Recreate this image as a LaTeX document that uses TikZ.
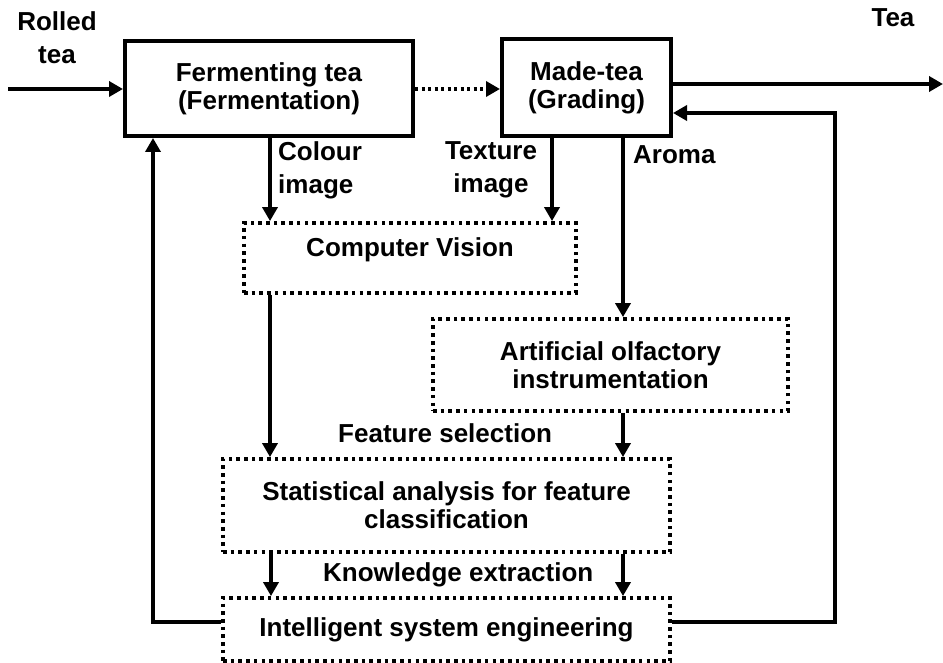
\documentclass[tikz,border=0pt]{standalone}
\usepackage{fontspec}
\setmainfont{Liberation Sans}
\usetikzlibrary{arrows.meta}
\tikzset{
  every node/.style={font=\fontsize{26}{28}\selectfont\bfseries, align=center, inner sep=0pt},
  solidbox/.style={draw, line width=4pt, minimum width=#1},
  dotbox/.style={draw, line width=3.8pt, dash pattern=on 3.6pt off 4.1pt, minimum width=#1},
  flow/.style={line width=3.6pt, -{Triangle[length=14pt,width=15pt]}},
  dotflow/.style={line width=3.4pt, dash pattern=on 3.2pt off 3.3pt, -{Triangle[length=14pt,width=15pt]}},
  lbl/.style={font=\fontsize{26}{33}\selectfont\bfseries}
}
\begin{document}
\begin{tikzpicture}[x=1pt,y=-1pt]
\useasboundingbox (0,0) rectangle (943,663);

% process boxes
\node[solidbox=288pt, minimum height=95pt] (ferm) at (269,88.5) {Fermenting tea\\(Fermentation)};
\node[solidbox=169pt, minimum height=97pt] (made) at (586.5,87.5) {Made-tea\\(Grading)};

% analysis boxes
\node[dotbox=332pt, minimum height=70pt, text depth=22pt] (cv) at (410,258) {Computer Vision};
\node[dotbox=355pt, minimum height=92pt] (art) at (610.5,365) {Artificial olfactory\\instrumentation};
\node[dotbox=447pt, minimum height=93pt] (stat) at (446.5,505.5) {Statistical analysis for feature\\classification};
\node[dotbox=447pt, minimum height=63pt] (ise) at (446.5,629.5) {Intelligent system engineering};

% free ends and routing points
\coordinate (in) at (8,89);
\coordinate (out) at (943,84);
\coordinate (fbL) at (153,622);
\coordinate (fbR) at (835,622);
\coordinate (fbRtop) at (835,113);
\coordinate (cx) at (270,0);
\coordinate (cx2) at (271,0);
\coordinate (tx) at (552,0);
\coordinate (ax) at (623,0);

% text labels
\node[lbl] (rolled) at (57,38) {Rolled\\tea};
\node (tea) at (893,18) {Tea};
\node[lbl, anchor=west, align=left] (colour) at (278,170) {Colour\\image};
\node[lbl] (texture) at (491,170) {Texture\\image};
\node[anchor=west] (aroma) at (633,155) {Aroma};
\node[anchor=west] (fsel) at (338,433) {Feature selection};
\node[anchor=west] (kext) at (323,575) {Knowledge extraction};

% main flow
\draw[flow] (in) -- (in -| ferm.west);
\draw[dotflow] (ferm.east |- in) -- (in -| made.west);
\draw[flow] (made.east |- out) -- (out);

% measurements
\draw[flow] (ferm.south -| cx) -- (cv.north -| cx);
\draw[flow] (made.south -| tx) -- (cv.north -| tx);
\draw[flow] (made.south -| ax) -- (art.north -| ax);
\draw[flow] (cv.south -| cx) -- (stat.north -| cx);
\draw[flow] (art.south -| ax) -- (stat.north -| ax);
\draw[flow] (stat.south -| cx2) -- (ise.north -| cx2);
\draw[flow] (stat.south -| ax) -- (ise.north -| ax);

% feedback loops
\draw[flow] (ise.west |- fbL) -- (fbL) -- (fbL |- ferm.south);
\draw[flow] (ise.east |- fbR) -- (fbR) -- (fbRtop) -- (fbRtop -| made.east);
\end{tikzpicture}
\end{document}
